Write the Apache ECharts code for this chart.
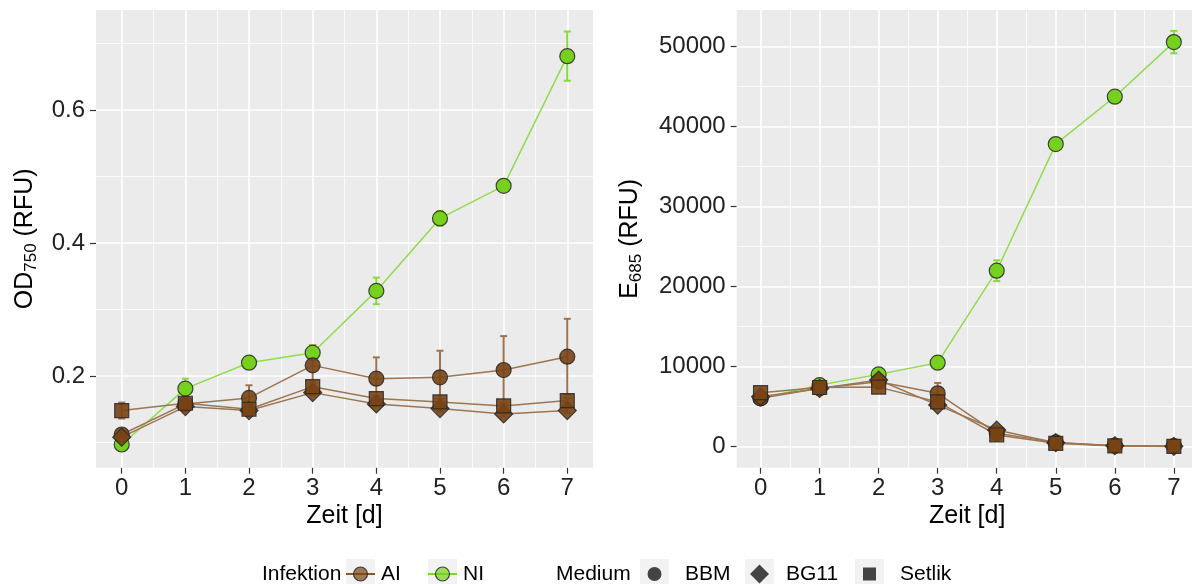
<!DOCTYPE html>
<html><head><meta charset="utf-8">
<script src="https://cdn.jsdelivr.net/npm/echarts@6/dist/echarts.min.js"></script>
<style>html,body{margin:0;padding:0;background:#fff}#c{width:1192px;height:584px}</style>
</head><body><div id="c"></div>
<script>
// ---- data ----
const days = [0, 1, 2, 3, 4, 5, 6, 7];
const xTicks = [0, 1, 2, 3, 4, 5, 6, 7];
const xMinor = [0.5, 1.5, 2.5, 3.5, 4.5, 5.5, 6.5];
const odTicks = [0.2, 0.4, 0.6];
const odMinor = [0.1, 0.3, 0.5, 0.7];
const eTicks = [0, 10000, 20000, 30000, 40000, 50000];
const eMinor = [5000, 15000, 25000, 35000, 45000];

// OD750 (RFU)
const odNI        = [0.097, 0.181, 0.220, 0.235, 0.328, 0.437, 0.486, 0.681];
const odNIsd      = [0.004, 0.015, 0.004, 0.011, 0.020, 0.011, 0.004, 0.037];
const odAIBBM     = [0.112, 0.158, 0.167, 0.216, 0.196, 0.198, 0.209, 0.229];
const odAIBBMsd   = [0.005, 0.006, 0.019, 0.030, 0.032, 0.040, 0.051, 0.057];
const odAIBG11    = [0.108, 0.154, 0.148, 0.175, 0.158, 0.151, 0.143, 0.148];
const odAIBG11sd  = [0.004, 0.004, 0.004, 0.004, 0.004, 0.004, 0.004, 0.004];
const odAISet     = [0.148, 0.159, 0.150, 0.184, 0.166, 0.161, 0.155, 0.163];
const odAISetsd   = [0.012, 0.004, 0.004, 0.006, 0.004, 0.004, 0.004, 0.004];

// E685 (RFU)
const eNI         = [6040, 7700, 9040, 10500, 22000, 37830, 43750, 50580];
const eNIsd       = [200, 300, 300, 300, 1300, 400, 300, 1400];
const eAIBBM      = [6040, 7300, 8130, 6670, 1670, 540, 130, 80];
const eAIBBMsd    = [300, 300, 400, 1300, 300, 200, 100, 50];
const eAIBG11     = [6250, 7290, 8330, 5200, 2080, 500, 120, 50];
const eAIBG11sd   = [200, 200, 200, 200, 200, 100, 50, 30];
const eAISet      = [6750, 7400, 7450, 5600, 1460, 420, 100, 40];
const eAISetsd    = [200, 200, 200, 200, 200, 100, 50, 30];

// ---- style ----
const FONT = '"Liberation Sans", Arial, Helvetica, sans-serif';
const GREEN = '#76D11E', GREEN_LINE = '#8FDC4E', GREEN_ERR = '#86DA3A';
const BROWN = 'rgba(120,68,20,0.9)', BROWN_LINE = '#9C7552', BROWN_ERR = '#9C7250';
const EDGE = 'rgba(40,40,40,0.85)';

const chart = echarts.init(document.getElementById('c'), null, {renderer: 'canvas'});

function pts(vals) { return days.map((d, i) => [d, vals[i]]); }
function errData(vals, sds) { return days.map((d, i) => [d, vals[i], sds[i]]); }

function gridLines(gi, yMaj, yMin) {
  const data = [];
  xTicks.forEach(v => data.push({xAxis: v, lineStyle: {width: 1.6}}));
  xMinor.forEach(v => data.push({xAxis: v, lineStyle: {width: 0.8}}));
  yMaj.forEach(v => data.push({yAxis: v, lineStyle: {width: 1.6}}));
  yMin.forEach(v => data.push({yAxis: v, lineStyle: {width: 0.8}}));
  return {
    type: 'line', xAxisIndex: gi, yAxisIndex: gi, z: 1, silent: true,
    data: [[0, yMaj[0]]], showSymbol: false, lineStyle: {opacity: 0},
    markLine: {
      z: 1, silent: true, symbol: ['none', 'none'], label: {show: false},
      lineStyle: {color: '#FFFFFF', type: 'solid'}, emphasis: {disabled: true},
      animation: false, precision: 6, data: data
    }
  };
}
function lineS(gi, vals, color) {
  return {type: 'line', xAxisIndex: gi, yAxisIndex: gi, z: 2, data: pts(vals),
    showSymbol: false, silent: true, lineStyle: {color: color, width: 1.5}};
}
function errS(gi, vals, sds, color) {
  return {
    type: 'custom', xAxisIndex: gi, yAxisIndex: gi, z: 3, silent: true,
    data: errData(vals, sds), encode: {x: 0, y: 1},
    renderItem: function (params, api) {
      const x = api.value(0), y = api.value(1), e = api.value(2);
      const t = api.coord([x, y + e]), b = api.coord([x, y - e]);
      const w = 3.5, st = {stroke: color, lineWidth: 2};
      return {type: 'group', children: [
        {type: 'line', shape: {x1: t[0], y1: t[1], x2: b[0], y2: b[1]}, style: st},
        {type: 'line', shape: {x1: t[0] - w, y1: t[1], x2: t[0] + w, y2: t[1]}, style: st},
        {type: 'line', shape: {x1: b[0] - w, y1: b[1], x2: b[0] + w, y2: b[1]}, style: st}
      ]};
    }
  };
}
function ptS(gi, vals, symbol, size, color) {
  return {type: 'scatter', xAxisIndex: gi, yAxisIndex: gi, z: 4, data: pts(vals), silent: true,
    symbol: symbol, symbolSize: size,
    itemStyle: {color: color, borderColor: EDGE, borderWidth: 1.2, opacity: 1}};
}

function xAx(gi) {
  return {
    gridIndex: gi, type: 'value', min: -0.404, max: 7.404, position: 'bottom',
    axisLine: {show: false, onZero: false},
    axisTick: {show: true, length: 6, customValues: xTicks, lineStyle: {color: '#333', width: 1.2}},
    axisLabel: {customValues: xTicks, margin: 9, fontSize: 24, color: '#222', fontFamily: FONT},
    splitLine: {show: false}, minorSplitLine: {show: false},
    name: 'Zeit [d]', nameLocation: 'middle', nameGap: 36, nameMoveOverlap: false,
    nameTextStyle: {fontSize: 25, color: '#000', fontFamily: FONT}
  };
}
function yAx(gi, min, max, ticks, name, gap, fmt) {
  return {
    gridIndex: gi, type: 'value', min: min, max: max, position: 'left',
    axisLine: {show: false, onZero: false},
    axisTick: {show: true, length: 6, customValues: ticks, lineStyle: {color: '#333', width: 1.2}},
    axisLabel: {customValues: ticks, margin: 11, fontSize: 24, color: '#222', fontFamily: FONT, formatter: fmt},
    splitLine: {show: false},
    name: name, nameLocation: 'middle', nameRotate: 90, nameGap: gap, nameMoveOverlap: false,
    nameTextStyle: {
      fontFamily: FONT, color: '#000',
      rich: {
        n: {fontSize: 25, lineHeight: 30, verticalAlign: 'middle', fontFamily: FONT, color: '#000'},
        s: {fontSize: 17, lineHeight: 17, verticalAlign: 'bottom', fontFamily: FONT, color: '#000'}
      }
    }
  };
}

// legend graphics (layout only)
const LY = 574;
function keyBox(x) { return {type: 'rect', shape: {x: x, y: LY - 15, width: 29, height: 30}, style: {fill: '#F2F2F2'}, silent: true}; }
function txt(s, x) { return {type: 'text', style: {text: s, x: x, y: LY, font: '21px ' + FONT, fill: '#000', verticalAlign: 'middle', align: 'left'}, silent: true}; }
const legend = [
  txt('Infektion', 262),
  keyBox(346),
  {type: 'line', shape: {x1: 346, y1: LY, x2: 375, y2: LY}, style: {stroke: '#8B5A2B', lineWidth: 2}, silent: true},
  {type: 'circle', shape: {cx: 360.5, cy: LY, r: 7}, style: {fill: 'rgba(120,68,20,0.7)', stroke: EDGE, lineWidth: 1.2}, silent: true},
  txt('AI', 381),
  keyBox(428),
  {type: 'line', shape: {x1: 428, y1: LY, x2: 457, y2: LY}, style: {stroke: '#7CD62A', lineWidth: 2}, silent: true},
  {type: 'circle', shape: {cx: 442.5, cy: LY, r: 7}, style: {fill: 'rgba(118,209,30,0.7)', stroke: EDGE, lineWidth: 1.2}, silent: true},
  txt('NI', 463),
  txt('Medium', 556),
  keyBox(640),
  {type: 'circle', shape: {cx: 654.5, cy: LY, r: 7}, style: {fill: '#444'}, silent: true},
  txt('BBM', 685),
  keyBox(745),
  {type: 'polygon', shape: {points: [[759.5, LY - 9.5], [769, LY], [759.5, LY + 9.5], [750, LY]]}, style: {fill: '#444'}, silent: true},
  txt('BG11', 786),
  keyBox(855),
  {type: 'rect', shape: {x: 863, y: LY - 6.5, width: 13, height: 13}, style: {fill: '#444'}, silent: true},
  txt('Setlik', 900)
];

const option = {
  animation: false,
  backgroundColor: '#FFFFFF',
  textStyle: {fontFamily: FONT},
  grid: [
    {left: 96, top: 10, width: 497, height: 457.7, show: true, backgroundColor: '#EBEBEB', borderWidth: 0, containLabel: false, outerBoundsMode: 'none'},
    {left: 736.7, top: 10, width: 461, height: 457.7, show: true, backgroundColor: '#EBEBEB', borderWidth: 0, containLabel: false, outerBoundsMode: 'none'}
  ],
  xAxis: [xAx(0), xAx(1)],
  yAxis: [
    yAx(0, 0.0621, 0.7504, odTicks, '{n|OD}{s|750}{n| (RFU)}', 56, v => v.toFixed(1)),
    yAx(1, -2625, 54590, eTicks, '{n|E}{s|685}{n| (RFU)}', 92, v => String(Math.round(v)))
  ],
  graphic: legend,
  series: [
    gridLines(0, odTicks, odMinor),
    gridLines(1, eTicks, eMinor),
    // lines
    lineS(0, odNI, GREEN_LINE), lineS(0, odAIBBM, BROWN_LINE), lineS(0, odAIBG11, BROWN_LINE), lineS(0, odAISet, BROWN_LINE),
    lineS(1, eNI, GREEN_LINE), lineS(1, eAIBBM, BROWN_LINE), lineS(1, eAIBG11, BROWN_LINE), lineS(1, eAISet, BROWN_LINE),
    // error bars
    errS(0, odNI, odNIsd, GREEN_ERR), errS(0, odAIBBM, odAIBBMsd, BROWN_ERR), errS(0, odAIBG11, odAIBG11sd, BROWN_ERR), errS(0, odAISet, odAISetsd, BROWN_ERR),
    errS(1, eNI, eNIsd, GREEN_ERR), errS(1, eAIBBM, eAIBBMsd, BROWN_ERR), errS(1, eAIBG11, eAIBG11sd, BROWN_ERR), errS(1, eAISet, eAISetsd, BROWN_ERR),
    // points
    ptS(0, odNI, 'circle', 15, GREEN), ptS(0, odAIBBM, 'circle', 15, BROWN), ptS(0, odAIBG11, 'diamond', 18, BROWN), ptS(0, odAISet, 'rect', 14, BROWN),
    ptS(1, eNI, 'circle', 15, GREEN), ptS(1, eAIBBM, 'circle', 15, BROWN), ptS(1, eAIBG11, 'diamond', 18, BROWN), ptS(1, eAISet, 'rect', 14, BROWN)
  ]
};
chart.setOption(option);
</script>
</body></html>
